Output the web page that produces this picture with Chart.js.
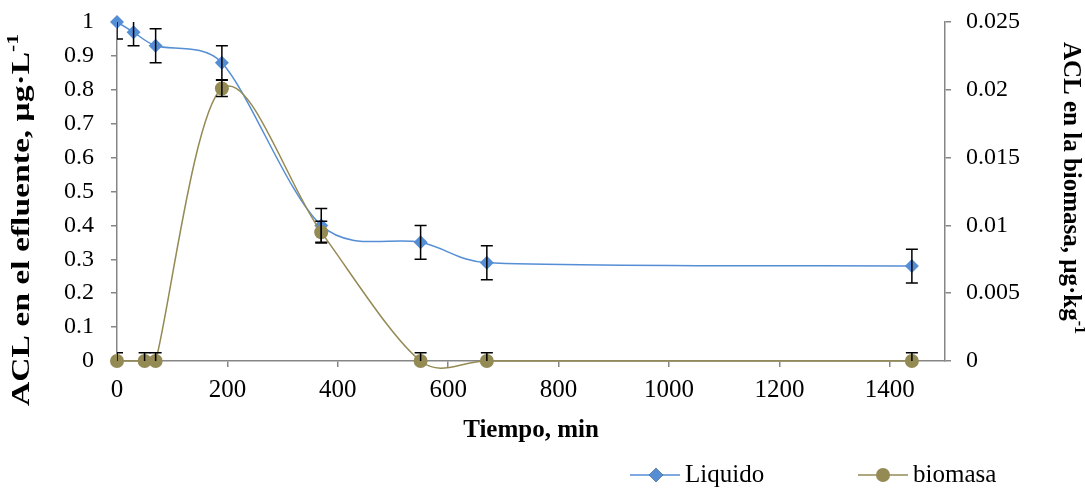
<!DOCTYPE html>
<html>
<head>
<meta charset="utf-8">
<script src="https://cdn.jsdelivr.net/npm/chart.js@4.4.1/dist/chart.umd.min.js"></script>
<style>
  html, body { margin: 0; padding: 0; background: #ffffff; }
  #wrap { width: 1085px; height: 489px; position: relative; }
</style>
</head>
<body>
<div id="wrap"><canvas id="chart"></canvas></div>
<script>
// tiempo (min) y concentraciones
const liquidoTiempo = [0, 30, 70, 190, 370, 550, 670, 1440];
const liquidoValores = [1.0, 0.97, 0.93, 0.88, 0.40, 0.35, 0.29, 0.28];
const liquidoError = [0.05, 0.04, 0.05, 0.05, 0.05, 0.05, 0.05, 0.05];

const biomasaTiempo = [0, 50, 70, 190, 370, 550, 670, 1440];
const biomasaValores = [0, 0, 0, 0.0201, 0.0095, 0, 0, 0];
const biomasaError = [0.0006, 0.0006, 0.0006, 0.0006, 0.0008, 0.0006, 0.0006, 0.0006];

const xTicks = [0, 200, 400, 600, 800, 1000, 1200, 1400];
const yLeftTicks = [0, 0.1, 0.2, 0.3, 0.4, 0.5, 0.6, 0.7, 0.8, 0.9, 1];
const yRightTicks = [0, 0.005, 0.01, 0.015, 0.02, 0.025];

const palette = {
  liquido: "#558ED5",
  biomasa: "#948A54",
  axis: "#868686",
  error: "#000000",
  text: "#000000",
};
const serif = "'Liberation Serif', 'Times New Roman', serif";
const smoothFactor = 1 / 6; // suavizado tipo Excel (Catmull-Rom)
const smoothLimit = 0.4;    // tope del tirador respecto al tramo

function toPoints(xs, ys) {
  return xs.map((x, i) => ({ x, y: ys[i] }));
}

function fmt(value) {
  return String(Number(Number(value).toFixed(4)));
}

function limitHandle(dx, dy, maxLen) {
  const len = Math.hypot(dx, dy);
  if (len <= maxLen || len === 0) return [dx, dy];
  return [dx * maxLen / len, dy * maxLen / len];
}

// recalcula los puntos de control de la curva parecido a Excel
const excelSmoothPlugin = {
  id: "excelSmooth",
  beforeDatasetDraw(chart, args) {
    const meta = chart.getDatasetMeta(args.index);
    const line = meta.dataset;
    const pts = meta.data;
    if (!line || pts.length < 2) return;

    line.updateControlPoints(chart.chartArea, "x");
    pts.forEach((p, i) => {
      const prev = pts[Math.max(i - 1, 0)];
      const next = pts[Math.min(i + 1, pts.length - 1)];
      const dx = (next.x - prev.x) * smoothFactor;
      const dy = (next.y - prev.y) * smoothFactor;
      const segPrev = Math.hypot(p.x - prev.x, p.y - prev.y);
      const segNext = Math.hypot(next.x - p.x, next.y - p.y);
      const [ax, ay] = limitHandle(dx, dy, segPrev * smoothLimit);
      const [bx, by] = limitHandle(dx, dy, segNext * smoothLimit);
      p.cp1x = p.x - ax;
      p.cp1y = p.y - ay;
      p.cp2x = p.x + bx;
      p.cp2y = p.y + by;
    });
    line._path = undefined;
  }
};

const errorBarPlugin = {
  id: "errorBars",
  afterDatasetsDraw(chart) {
    const { ctx, chartArea } = chart;
    const groups = [
      { xs: liquidoTiempo, ys: liquidoValores, err: liquidoError, axis: "y" },
      { xs: biomasaTiempo, ys: biomasaValores, err: biomasaError, axis: "y1" },
    ];

    ctx.save();
    ctx.beginPath();
    ctx.rect(chartArea.left, chartArea.top, chartArea.width, chartArea.height);
    ctx.clip();
    ctx.strokeStyle = palette.error;
    ctx.lineWidth = 1.5;

    groups.forEach(g => {
      const yScale = chart.scales[g.axis];
      g.xs.forEach((xv, i) => {
        const x = chart.scales.x.getPixelForValue(xv);
        const top = yScale.getPixelForValue(g.ys[i] + g.err[i]);
        const bottom = yScale.getPixelForValue(g.ys[i] - g.err[i]);
        ctx.beginPath();
        ctx.moveTo(x, top);
        ctx.lineTo(x, bottom);
        ctx.moveTo(x - 6, top);
        ctx.lineTo(x + 6, top);
        ctx.moveTo(x - 6, bottom);
        ctx.lineTo(x + 6, bottom);
        ctx.stroke();
      });
    });
    ctx.restore();
  }
};

function drawRotatedTitle(ctx, main, sup, cx, cy, angle, targetLength) {
  const mainFont = `bold 25px ${serif}`;
  const supFont = `bold 16px ${serif}`;
  ctx.font = mainFont;
  const mainW = ctx.measureText(main).width;
  ctx.font = supFont;
  const supW = ctx.measureText(sup).width;
  const total = mainW + supW;
  const start = -total / 2;

  ctx.save();
  ctx.translate(cx, cy);
  ctx.rotate(angle);
  ctx.scale(targetLength / total, 1);
  ctx.textBaseline = "middle";
  ctx.textAlign = "left";
  ctx.fillStyle = palette.text;
  ctx.font = mainFont;
  ctx.fillText(main, start, 0);
  ctx.font = supFont;
  ctx.fillText(sup, start + mainW, -9);
  ctx.restore();
}

const titlesPlugin = {
  id: "titlesAndLegend",
  afterDraw(chart) {
    const { ctx, chartArea } = chart;
    ctx.save();

    drawRotatedTitle(ctx, "ACL en el efluente, μg·L", "-1", 23, 220, -Math.PI / 2, 372);
    drawRotatedTitle(ctx, "ACL en la biomasa, μg·kg", "-1", 1070, 188, Math.PI / 2, 292);

    ctx.fillStyle = palette.text;
    ctx.font = `bold 25px ${serif}`;
    ctx.textAlign = "center";
    ctx.textBaseline = "middle";
    ctx.fillText("Tiempo, min", (chartArea.left + chartArea.right) / 2, 431);

    // leyenda
    const legendY = 475;
    ctx.lineWidth = 1.5;
    ctx.strokeStyle = palette.liquido;
    ctx.beginPath();
    ctx.moveTo(630, legendY);
    ctx.lineTo(680, legendY);
    ctx.stroke();
    Chart.helpers.drawPoint(ctx, { pointStyle: "rectRot", radius: 7, rotation: 0, borderWidth: 0 }, 656, legendY);
    ctx.fillStyle = palette.liquido;
    ctx.fill();

    ctx.strokeStyle = palette.biomasa;
    ctx.beginPath();
    ctx.moveTo(858, legendY);
    ctx.lineTo(908, legendY);
    ctx.stroke();
    ctx.beginPath();
    ctx.arc(883, legendY, 7, 0, Math.PI * 2);
    ctx.fillStyle = palette.biomasa;
    ctx.fill();

    ctx.fillStyle = palette.text;
    ctx.font = `25px ${serif}`;
    ctx.textAlign = "left";
    ctx.fillText("Liquido", 685, legendY);
    ctx.fillText("biomasa", 913, legendY);

    ctx.restore();
  }
};

const axisGrid = {
  display: true,
  drawOnChartArea: false,
  drawTicks: true,
  tickLength: 6,
  color: palette.axis,
  lineWidth: 1.5,
};

function fixYScale(width) {
  return scale => {
    scale.width = width;
    scale.paddingTop = 0;
    scale.paddingBottom = 0;
  };
}

new Chart(document.getElementById("chart").getContext("2d"), {
  type: "scatter",
  data: {
    datasets: [
      {
        label: "Liquido",
        data: toPoints(liquidoTiempo, liquidoValores),
        yAxisID: "y",
        showLine: true,
        borderColor: palette.liquido,
        backgroundColor: palette.liquido,
        borderWidth: 1.5,
        pointStyle: "rectRot",
        pointRadius: 7,
        pointBorderWidth: 0,
        pointBackgroundColor: palette.liquido,
        tension: 0.4,
        clip: false,
        order: 2,
      },
      {
        label: "biomasa",
        data: toPoints(biomasaTiempo, biomasaValores),
        yAxisID: "y1",
        showLine: true,
        borderColor: palette.biomasa,
        backgroundColor: palette.biomasa,
        borderWidth: 1.5,
        pointStyle: "circle",
        pointRadius: 7,
        pointBorderWidth: 0,
        pointBackgroundColor: palette.biomasa,
        tension: 0.4,
        clip: false,
        order: 1,
      },
    ],
  },
  plugins: [excelSmoothPlugin, errorBarPlugin, titlesPlugin],
  options: {
    responsive: true,
    maintainAspectRatio: false,
    animation: false,
    layout: { padding: { top: 22, left: 0, right: 0, bottom: 0 } },
    plugins: {
      legend: { display: false },
      tooltip: { enabled: false },
    },
    scales: {
      x: {
        type: "linear",
        min: 0,
        max: 1500,
        afterFit: scale => { scale.height = 128; },
        afterBuildTicks: scale => { scale.ticks = xTicks.map(value => ({ value })); },
        border: { display: true, color: palette.axis, width: 1.5 },
        grid: axisGrid,
        ticks: {
          color: palette.text,
          padding: 8,
          maxRotation: 0,
          font: { family: serif, size: 25 },
          callback: value => fmt(value),
        },
      },
      y: {
        position: "left",
        min: 0,
        max: 1,
        afterFit: fixYScale(117),
        afterBuildTicks: scale => { scale.ticks = yLeftTicks.map(value => ({ value })); },
        border: { display: true, color: palette.axis, width: 1.5 },
        grid: axisGrid,
        ticks: {
          color: palette.text,
          padding: 17,
          font: { family: serif, size: 24 },
          callback: value => fmt(value),
        },
      },
      y1: {
        position: "right",
        min: 0,
        max: 0.025,
        afterFit: fixYScale(140),
        afterBuildTicks: scale => { scale.ticks = yRightTicks.map(value => ({ value })); },
        border: { display: true, color: palette.axis, width: 1.5 },
        grid: axisGrid,
        ticks: {
          color: palette.text,
          padding: 15,
          font: { family: serif, size: 24 },
          callback: value => fmt(value),
        },
      },
    },
  },
});
</script>
</body>
</html>
